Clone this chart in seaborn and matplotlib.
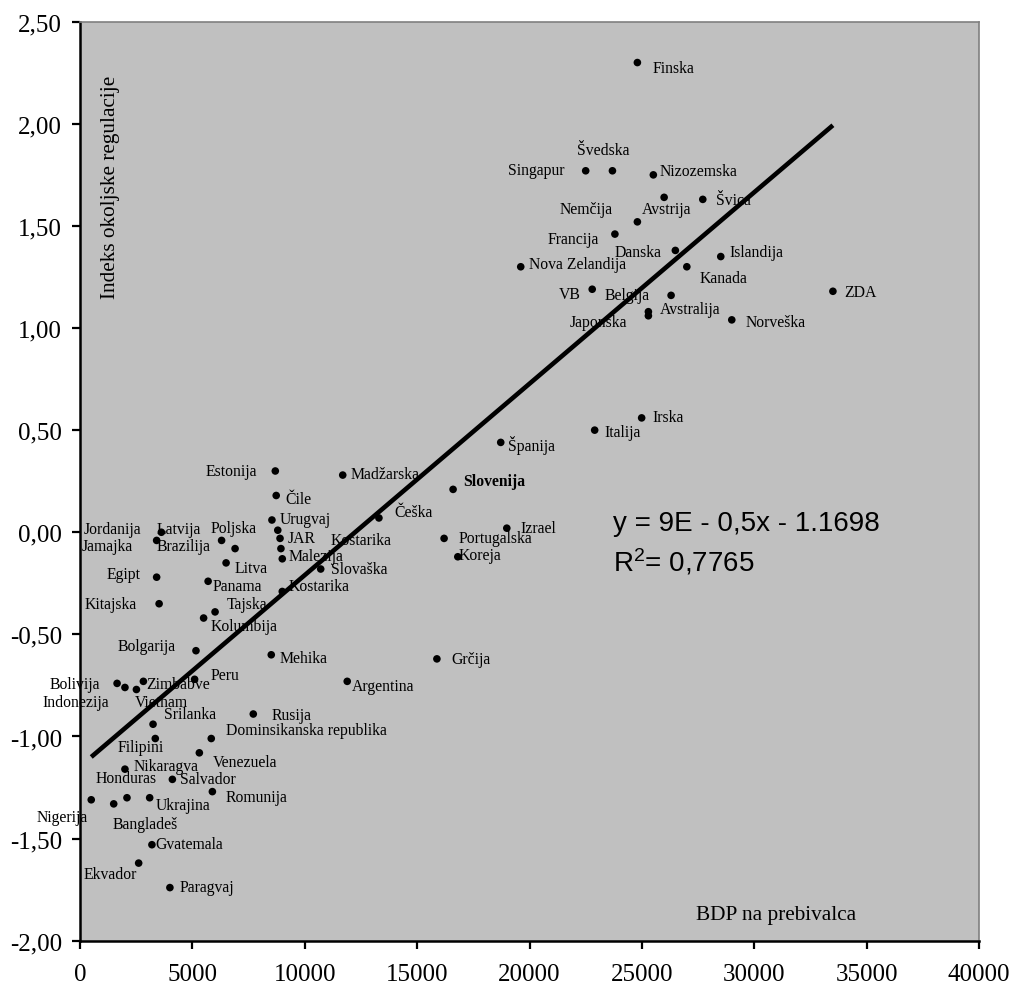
import matplotlib
matplotlib.use("Agg")
import matplotlib.pyplot as plt
import matplotlib.ticker as mticker
import numpy as np
import pandas as pd
import seaborn as sns

# ---------------- data ----------------
countries = [
    "Finska", "Singapur", "Švedska", "Nizozemska", "Avstrija", "Švica", "Nemčija",
    "Francija", "Danska", "Islandija", "Kanada", "Nova Zelandija", "VB", "Belgija",
    "Avstralija", "Japonska", "Norveška", "ZDA", "Irska", "Italija", "Španija",
    "Estonija", "Madžarska", "Slovenija", "Čile", "Češka", "Urugvaj", "Kostarika",
    "Izrael", "Latvija", "Brazilija", "JAR", "Portugalska", "Poljska", "Jordanija",
    "Jamajka", "Koreja", "Malezija", "Litva", "Slovaška", "Egipt", "Panama",
    "Kostarika", "Kitajska", "Tajska", "Kolumbija", "Bolgarija", "Mehika", "Grčija",
    "Argentina", "Peru", "Zimbabve", "Bolivija", "Indonezija", "Vietnam", "Rusija",
    "Srilanka", "Filipini", "Dominsikanska republika", "Venezuela", "Nikaragva",
    "Salvador", "Romunija", "Nigerija", "Honduras", "Bangladeš", "Ukrajina",
    "Gvatemala", "Ekvador", "Paragvaj",
]
gdp_per_capita = [
    24800, 22500, 23690, 25510, 25990, 27710, 24800,
    23800, 26490, 28510, 27000, 19610, 22790, 26300,
    25290, 25290, 29000, 33500, 24990, 22900, 18720,
    8690, 11690, 16600, 8730, 13300, 8540, 8800,
    18990, 3620, 3410, 8900, 16200, 6300, 6900,
    8940, 16810, 9000, 6500, 10710, 3410, 5700,
    9000, 3520, 6010, 5500, 5160, 8510, 15880,
    11890, 5100, 2820, 1650, 2000, 2510, 7710,
    3250, 3350, 5840, 5310, 2000,
    4110, 5890, 500, 1500, 2090, 3100,
    3200, 2610, 4000,
]
env_index = [
    2.30, 1.77, 1.77, 1.75, 1.64, 1.63, 1.52,
    1.46, 1.38, 1.35, 1.30, 1.30, 1.19, 1.16,
    1.08, 1.06, 1.04, 1.18, 0.56, 0.50, 0.44,
    0.30, 0.28, 0.21, 0.18, 0.07, 0.06, 0.01,
    0.02, 0.00, -0.04, -0.03, -0.03, -0.04, -0.08,
    -0.08, -0.12, -0.13, -0.15, -0.18, -0.22, -0.24,
    -0.29, -0.35, -0.39, -0.42, -0.58, -0.60, -0.62,
    -0.73, -0.72, -0.73, -0.74, -0.76, -0.77, -0.89,
    -0.94, -1.01, -1.01, -1.08, -1.16,
    -1.21, -1.27, -1.31, -1.33, -1.30, -1.30,
    -1.53, -1.62, -1.74,
]
x_ticks = [0, 5000, 10000, 15000, 20000, 25000, 30000, 35000, 40000]
y_ticks = [-2.0, -1.5, -1.0, -0.5, 0.0, 0.5, 1.0, 1.5, 2.0, 2.5]
x_title = "BDP na prebivalca"
y_title = "Indeks okoljske regulacije"
eq_line1 = "y = 9E - 0,5x - 1.1698"
eq_line2 = r"R$^{2}$= 0,7765"

# label placement (pixel offsets: dx right, dy down, alignment)
label_offsets = [
    (15, 9.4, "left"), (-20.7, 3.7, "right"), (-35, -17, "left"), (6.7, 0, "left"),
    (-22.3, 15.7, "left"), (13.3, 4.7, "left"), (-24.6, -8.7, "right"),
    (-16.3, 8.7, "right"), (-13.6, 5.4, "right"), (8.6, -0.6, "left"),
    (12.6, 15.6, "left"), (8.6, 1.6, "left"), (-11.3, 9, "right"), (-67, 3.3, "left"),
    (11.7, 1.3, "left"), (-21.6, 10, "right"), (14, 5.7, "left"), (11, 4.4, "left"),
    (10.6, 3, "left"), (9.3, 6, "left"), (7.6, 7.7, "left"),
    (-18, 3.7, "right"), (8.3, 3.3, "left"), (10.3, -4, "left"), (9.4, 7.3, "left"),
    (15.3, -1.7, "left"), (8, 3.3, "left"), (52.3, 13.3, "left"),
    (14, 4, "left"), (-4.6, 0.3, "left"), (0.3, 10, "left"), (7.3, 3.4, "left"),
    (14.3, 3.4, "left"), (-11, -8, "left"), (-93.3, -15.7, "right"),
    (-148.3, 1, "right"), (0.6, 2.3, "left"), (6, 0.7, "left"), (8.3, 9.3, "left"),
    (10, 3.6, "left"), (-15.7, 1.3, "right"), (4.7, 8.7, "left"),
    (6, -1.6, "left"), (-22.3, 4.6, "right"), (11.7, -4.4, "left"), (7, 11.7, "left"),
    (-20, -0.7, "right"), (8.7, 7.3, "left"), (14.7, 4, "left"),
    (4.4, 9, "left"), (16, 0, "left"), (2.4, 7, "left"), (-17, 5, "right"),
    (-16, 18.4, "right"), (-2, 16, "left"), (18.4, 4.6, "left"),
    (11.3, -6, "left"), (-38, 12.4, "left"), (14.7, -4.3, "left"), (13, 13.3, "left"),
    (9, 1, "left"), (7.7, 3.3, "left"), (13.7, 9, "left"), (-3.6, 21.3, "right"),
    (-18, -21.4, "left"), (-14.3, 30, "left"), (6.3, 11.7, "left"),
    (3.7, 3, "left"), (-1.4, 14.6, "right"), (10, 3.6, "left"),
]
bold_labels = {"Slovenija"}

df = pd.DataFrame({"country": countries, "gdp": gdp_per_capita, "idx": env_index})

# ---------------- figure ----------------
plt.rcParams["font.family"] = ["Liberation Serif", "DejaVu Serif"]
plt.rcParams["mathtext.fontset"] = "custom"
plt.rcParams["mathtext.rm"] = "Liberation Sans"
plt.rcParams["mathtext.it"] = "Liberation Sans:italic"
plt.rcParams["mathtext.bf"] = "Liberation Sans:bold"

W, H = 1010, 987
fig = plt.figure(figsize=(W / 100, H / 100), dpi=100)
fig.patch.set_facecolor("white")
ax_left, ax_right, ax_top, ax_bottom = 80, 979, 22.7, 941.7
ax = fig.add_axes([ax_left / W, 1 - ax_bottom / H,
                   (ax_right - ax_left) / W, (ax_bottom - ax_top) / H])
ax.set_facecolor("#C0C0C0")

sns.scatterplot(data=df, x="gdp", y="idx", ax=ax, color="black", s=30,
                edgecolor="none", linewidth=0, zorder=4, legend=False)
sns.regplot(data=df, x="gdp", y="idx", ax=ax, ci=None, scatter=False,
            line_kws=dict(color="black", lw=3.3, zorder=6, solid_capstyle="butt"))

for name, gx, gy, (dx, dy, ha) in zip(countries, gdp_per_capita, env_index, label_offsets):
    ax.annotate(name, xy=(gx, gy), xytext=(dx, -dy), textcoords="offset pixels",
                ha=ha, va="baseline", fontsize=11.3, color="black",
                fontweight="bold" if name in bold_labels else "normal",
                annotation_clip=False, zorder=5)

ax.set_xlim(0, 40000)
ax.set_ylim(-2.0, 2.5)
ax.xaxis.set_major_locator(mticker.FixedLocator(x_ticks))
ax.yaxis.set_major_locator(mticker.FixedLocator(y_ticks))
ax.xaxis.set_major_formatter(mticker.FuncFormatter(lambda v, p: f"{v:.0f}"))
ax.yaxis.set_major_formatter(mticker.FuncFormatter(lambda v, p: f"{v:.2f}".replace(".", ",")))
ax.set_xlabel("")
ax.set_ylabel("")
ax.tick_params(axis="both", direction="out", length=6, width=1.6, colors="black",
               labelsize=18)
ax.tick_params(axis="x", pad=10)
ax.tick_params(axis="y", pad=7)

for side in ("left", "bottom"):
    ax.spines[side].set_color("black")
    ax.spines[side].set_linewidth(1.8)
for side in ("top", "right"):
    ax.spines[side].set_color("#808080")
    ax.spines[side].set_linewidth(1.2)

# axis titles inside the plot area
fig.text(696 / W, 1 - 920 / H, x_title, ha="left", va="baseline", fontsize=15.3)
fig.text(111 / W, 1 - 187 / H, y_title, ha="center", va="center", rotation=90,
         fontsize=15.3)

# regression equation
fig.text(613 / W, 1 - 530.7 / H, eq_line1, ha="left", va="baseline",
         fontsize=20, family="Liberation Sans")
fig.text(613 / W, 1 - 571.7 / H, eq_line2, ha="left", va="baseline",
         fontsize=20, family="Liberation Sans")

fig.savefig("out.png", dpi=100, facecolor="white")
